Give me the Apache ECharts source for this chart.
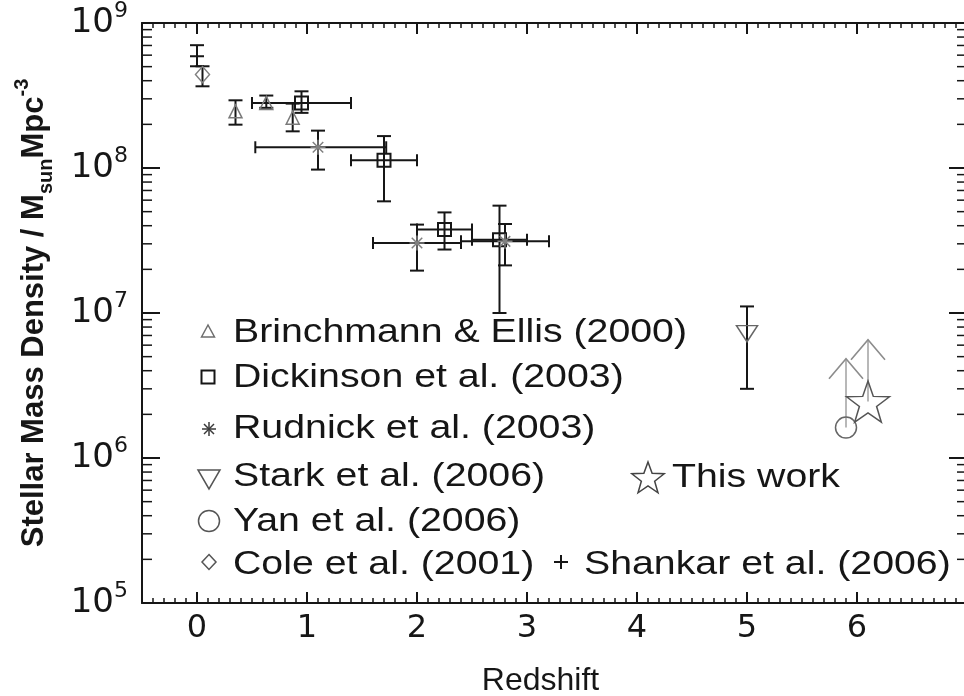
<!DOCTYPE html>
<html>
<head>
<meta charset="utf-8">
<script src="https://cdn.jsdelivr.net/npm/echarts@6/dist/echarts.min.js"></script>
<style>
  html, body { margin: 0; padding: 0; background: #fff; }
  #chart { width: 964px; height: 696px; }
</style>
</head>
<body>
<div id="chart"></div>
<script>
// Stellar mass density (M_sun Mpc^-3) against redshift, by survey.
const brinchmannZ = [0.35, 0.63, 0.87];
const brinchmannRho = [2.46e8, 2.81e8, 2.22e8];
const brinchmannLo = [1.99e8, 2.60e8, 1.79e8];
const brinchmannHi = [2.93e8, 3.16e8, 2.78e8];

const dickinsonZ = [0.95, 1.7, 2.25, 2.75];
const dickinsonZLo = [0.5, 1.4, 2.0, 2.5];
const dickinsonZHi = [1.4, 2.0, 2.5, 3.0];
const dickinsonRho = [2.81e8, 1.13e8, 3.76e7, 3.2e7];
const dickinsonLo = [2.40e8, 5.89e7, 2.74e7, 1.0e7];
const dickinsonHi = [3.38e8, 1.66e8, 4.94e7, 5.5e7];

const rudnickZ = [1.1, 2.0, 2.8];
const rudnickZLo = [0.53, 1.6, 2.4];
const rudnickZHi = [1.72, 2.4, 3.2];
const rudnickRho = [1.39e8, 3.04e7, 3.12e7];
const rudnickLo = [9.75e7, 1.96e7, 2.13e7];
const rudnickHi = [1.81e8, 4.07e7, 4.11e7];

const starkZ = [5.0];
const starkRho = [7.2e6];
const starkLo = [3.0e6];
const starkHi = [1.11e7];

const yanZ = [5.9];
const yanRho = [1.62e6];
const yanArrowTo = [4.84e6];

const thisWorkZ = [6.1];
const thisWorkRho = [2.45e6];
const thisWorkArrowTo = [6.54e6];

const coleZ = [0.05];
const coleRho = [4.41e8];
const coleLo = [3.66e8];
const coleHi = [5.03e8];

const shankarZ = [0.0];
const shankarRho = [5.9e8];
const shankarLo = [5.03e8];
const shankarHi = [7.03e8];

const xTickValues = [0, 1, 2, 3, 4, 5, 6];
const yDecades = [1e5, 1e6, 1e7, 1e8, 1e9];
const legendLabels = [
  'Brinchmann & Ellis (2000)',
  'Dickinson et al. (2003)',
  'Rudnick et al. (2003)',
  'Stark et al. (2006)',
  'Yan et al. (2006)',
  'Cole et al. (2001)',
  'This work',
  'Shankar et al. (2006)'
];

const X_MIN = -0.5, X_MAX = 7.0;
const Y_MIN = yDecades[0], Y_MAX = yDecades[yDecades.length - 1];
const INK = '#161616';
const SANS = 'Liberation Sans, Arial, sans-serif';
const WIDE = 'DejaVu Sans, Verdana, sans-serif';

// log-axis minor ticks at 2..9 within every decade
const yMinorTicks = [];
for (let d = 0; d < yDecades.length - 1; d++) {
  for (let m = 2; m <= 9; m++) yMinorTicks.push(m * yDecades[d]);
}

function pairs(xs, ys) { return xs.map((v, i) => [v, ys[i]]); }

function starPath(R, r) {
  const pts = [];
  for (let k = 0; k < 10; k++) {
    const a = (-90 + k * 36) * Math.PI / 180;
    const rad = k % 2 ? r : R;
    pts.push([R + rad * Math.cos(a), R + rad * Math.sin(a)]);
  }
  return pts;
}
const starSymbol = 'path://M' + starPath(20, 8).map(p => p[0].toFixed(2) + ',' + p[1].toFixed(2)).join('L') + 'Z';
const asteriskSymbol = 'path://M5,0L5,10M0,5L10,5M1.5,1.5L8.5,8.5M8.5,1.5L1.5,8.5';
const plusSymbol = 'path://M0,5L10,5M5,0L5,10';

function errorBars(name, xs, ys, spec) {
  return {
    type: 'custom',
    name: name + ' errors',
    data: pairs(xs, ys),
    clip: false,
    silent: true,
    z: 3,
    renderItem(params, api) {
      const i = params.dataIndex;
      const zc = api.value(0), yc = api.value(1);
      const style = { stroke: spec.color || INK, lineWidth: spec.lw || 2, fill: null };
      const kids = [];
      const seg = (a, b) => kids.push({ type: 'line', shape: { x1: a[0], y1: a[1], x2: b[0], y2: b[1] }, style });
      if (spec.lo) {
        const lo = api.coord([zc, spec.lo[i]]), hi = api.coord([zc, spec.hi[i]]);
        const c = spec.capV || 7;
        seg(lo, hi);
        seg([lo[0] - c, lo[1]], [lo[0] + c, lo[1]]);
        seg([hi[0] - c, hi[1]], [hi[0] + c, hi[1]]);
      }
      if (spec.zlo) {
        const l = api.coord([spec.zlo[i], yc]), r = api.coord([spec.zhi[i], yc]);
        const c = spec.capH || 6;
        seg(l, r);
        seg([l[0], l[1] - c], [l[0], l[1] + c]);
        seg([r[0], r[1] - c], [r[0], r[1] + c]);
      }
      return { type: 'group', children: kids };
    }
  };
}

function lowerLimitArrows(name, xs, ys, tips) {
  return {
    type: 'custom',
    name: name + ' limits',
    data: pairs(xs, ys),
    clip: false,
    silent: true,
    z: 3,
    renderItem(params, api) {
      const i = params.dataIndex;
      const a = api.coord([api.value(0), api.value(1)]);
      const b = api.coord([api.value(0), tips[i]]);
      return {
        type: 'group',
        children: [
          { type: 'line', shape: { x1: a[0], y1: a[1], x2: b[0], y2: b[1] }, style: { stroke: '#b8b8b8', lineWidth: 2 } },
          { type: 'polyline', shape: { points: [[b[0] - 17, b[1] + 20], [b[0], b[1]], [b[0] + 17, b[1] + 20]] },
            style: { stroke: '#8c8c8c', lineWidth: 1.6, fill: null } }
        ]
      };
    }
  };
}

function markers(name, xs, ys, symbol, size, color, lw, rotate) {
  return {
    type: 'scatter',
    name,
    data: pairs(xs, ys),
    symbol,
    symbolSize: size,
    symbolRotate: rotate || 0,
    silent: true,
    z: 5,
    itemStyle: { color: 'rgba(0,0,0,0)', borderColor: color, borderWidth: lw, opacity: 1 }
  };
}

const tickMarks = {
  type: 'custom',
  name: 'minor ticks',
  data: yMinorTicks.map(v => [X_MIN, v]),
  clip: false,
  silent: true,
  z: 2,
  renderItem(params, api) {
    const v = api.value(1);
    const a = api.coord([X_MIN, v]), b = api.coord([X_MAX, v]);
    const st = { stroke: INK, lineWidth: 1.5 };
    return {
      type: 'group',
      children: [
        { type: 'line', shape: { x1: a[0], y1: a[1], x2: a[0] + 10, y2: a[1] }, style: st },
        { type: 'line', shape: { x1: b[0], y1: b[1], x2: b[0] - 10, y2: b[1] }, style: st }
      ]
    };
  }
};

const axisLine = { show: true, onZero: false, lineStyle: { color: INK, width: 2 } };

function minorX(pos) {
  return {
    type: 'value', position: pos, min: X_MIN, max: X_MAX, interval: 0.1,
    axisLine, axisTick: { show: true, inside: true, length: 5, lineStyle: { color: INK, width: 1.5 } },
    axisLabel: { show: false }, splitLine: { show: false }
  };
}
function majorX(pos, withLabels) {
  return {
    type: 'value', position: pos, min: X_MIN, max: X_MAX,
    axisLine: { show: false, onZero: false },
    axisTick: { show: true, inside: true, length: 11, customValues: xTickValues, lineStyle: { color: INK, width: 2 } },
    axisLabel: { show: withLabels, customValues: xTickValues, margin: 10, fontSize: 32, fontFamily: WIDE, color: INK },
    splitLine: { show: false },
    name: withLabels ? 'Redshift' : '',
    nameLocation: 'middle',
    nameGap: 62,
    nameTextStyle: { fontSize: 32, fontFamily: SANS, color: INK, padding: [0, 28, 0, 0] }
  };
}
function logY(pos, withLabels) {
  return {
    type: 'log', logBase: 10, position: pos, min: Y_MIN, max: Y_MAX,
    axisLine,
    axisTick: { show: true, inside: true, length: 18, lineStyle: { color: INK, width: 2 } },
    axisLabel: {
      show: withLabels, margin: 14,
      formatter: v => '{b|10}{s|' + Math.round(Math.log10(v)) + '}',
      rich: {
        b: { fontSize: 34, fontFamily: WIDE, color: INK, lineHeight: 46 },
        s: { fontSize: 22, fontFamily: WIDE, color: INK, lineHeight: 22, verticalAlign: 'top' }
      }
    },
    splitLine: { show: false },
    name: withLabels ? '{t|Stellar Mass Density / M}{sub|sun}{t|Mpc}{sup|-3}' : '',
    nameLocation: 'middle',
    nameRotate: 90,
    nameGap: 86,
    nameTextStyle: {
      rich: {
        t: { fontSize: 31, fontWeight: 'bold', fontFamily: SANS, color: INK, lineHeight: 44 },
        sub: { fontSize: 20, fontWeight: 'bold', fontFamily: SANS, color: INK, lineHeight: 20, verticalAlign: 'bottom' },
        sup: { fontSize: 20, fontWeight: 'bold', fontFamily: SANS, color: INK, lineHeight: 20, verticalAlign: 'top' }
      }
    }
  };
}

// legend drawn as free graphics
function legendGlyph(kind, cx, cy) {
  const open = (stroke, lw) => ({ stroke, lineWidth: lw, fill: null });
  switch (kind) {
    case 'up':
      return { type: 'polygon', shape: { points: [[cx - 6.5, cy + 6], [cx, cy - 6], [cx + 6.5, cy + 6]] }, style: open('#6e6e6e', 1.5) };
    case 'square':
      return { type: 'rect', shape: { x: cx - 6.5, y: cy - 6.5, width: 13, height: 13 }, style: open(INK, 2) };
    case 'asterisk':
      return { type: 'group', children: [
        [[cx, cy - 7], [cx, cy + 7]], [[cx - 7, cy], [cx + 7, cy]],
        [[cx - 5, cy - 5], [cx + 5, cy + 5]], [[cx + 5, cy - 5], [cx - 5, cy + 5]]
      ].map(s => ({ type: 'line', shape: { x1: s[0][0], y1: s[0][1], x2: s[1][0], y2: s[1][1] }, style: open('#3a3a3a', 1.5) })) };
    case 'down':
      return { type: 'polygon', shape: { points: [[cx - 11, cy - 9], [cx + 11, cy - 9], [cx, cy + 10]] }, style: open('#555', 1.5) };
    case 'circle':
      return { type: 'circle', shape: { cx, cy, r: 10.5 }, style: open('#555', 1.5) };
    case 'diamond':
      return { type: 'polygon', shape: { points: [[cx, cy - 7.5], [cx + 7, cy], [cx, cy + 7.5], [cx - 7, cy]] }, style: open('#555', 1.5) };
    case 'plus':
      return { type: 'group', children: [
        { type: 'line', shape: { x1: cx - 7, y1: cy, x2: cx + 7, y2: cy }, style: open(INK, 2) },
        { type: 'line', shape: { x1: cx, y1: cy - 7, x2: cx, y2: cy + 7 }, style: open(INK, 2) }
      ] };
    case 'star':
      return { type: 'polygon', shape: { points: starPath(17, 7).map(p => [p[0] + cx - 17, p[1] + cy - 17]) }, style: open('#444', 1.5) };
  }
}
const legendLayout = [
  { kind: 'up', gx: 208, gy: 331, tx: 233, ty: 333 },
  { kind: 'square', gx: 208, gy: 377, tx: 233, ty: 378 },
  { kind: 'asterisk', gx: 209, gy: 429, tx: 233, ty: 429 },
  { kind: 'down', gx: 209, gy: 479, tx: 233, ty: 477 },
  { kind: 'circle', gx: 209, gy: 521, tx: 233, ty: 522 },
  { kind: 'diamond', gx: 209, gy: 562, tx: 233, ty: 565 },
  { kind: 'star', gx: 648, gy: 479, tx: 672, ty: 478 },
  { kind: 'plus', gx: 561, gy: 562, tx: 584, ty: 565 }
];
const legendGraphics = [];
legendLayout.forEach((e, i) => {
  legendGraphics.push(legendGlyph(e.kind, e.gx, e.gy));
  legendGraphics.push({
    type: 'text', x: e.tx, y: e.ty, scaleX: 1.19,
    style: { text: legendLabels[i], fontSize: 33, fontFamily: SANS, fill: INK, textAlign: 'left', verticalAlign: 'middle', textVerticalAlign: 'middle' }
  });
});

const chart = echarts.init(document.getElementById('chart'));
chart.setOption({
  animation: false,
  backgroundColor: '#ffffff',
  grid: { left: 142, right: -3, top: 23, bottom: 93, outerBoundsMode: 'none', containLabel: false },
  xAxis: [minorX('bottom'), majorX('bottom', true), minorX('top'), majorX('top', false)],
  yAxis: [logY('left', true), logY('right', false)],
  series: [
    tickMarks,
    errorBars(legendLabels[0], brinchmannZ, brinchmannRho, { lo: brinchmannLo, hi: brinchmannHi }),
    errorBars(legendLabels[1], dickinsonZ, dickinsonRho, { lo: dickinsonLo, hi: dickinsonHi, zlo: dickinsonZLo, zhi: dickinsonZHi }),
    errorBars(legendLabels[2], rudnickZ, rudnickRho, { lo: rudnickLo, hi: rudnickHi, zlo: rudnickZLo, zhi: rudnickZHi }),
    errorBars(legendLabels[3], starkZ, starkRho, { lo: starkLo, hi: starkHi }),
    errorBars(legendLabels[5], coleZ, coleRho, { lo: coleLo, hi: coleHi }),
    errorBars(legendLabels[7], shankarZ, shankarRho, { lo: shankarLo, hi: shankarHi }),
    lowerLimitArrows(legendLabels[4], yanZ, yanRho, yanArrowTo),
    lowerLimitArrows(legendLabels[6], thisWorkZ, thisWorkRho, thisWorkArrowTo),
    markers(legendLabels[0], brinchmannZ, brinchmannRho, 'triangle', [13, 13], '#7a7a7a', 1.5),
    markers(legendLabels[1], dickinsonZ, dickinsonRho, 'rect', 13, INK, 2),
    markers(legendLabels[2], rudnickZ, rudnickRho, asteriskSymbol, 15, '#808080', 1.5),
    markers(legendLabels[3], starkZ, starkRho, 'triangle', [21, 16], '#666', 1.5, 180),
    markers(legendLabels[4], yanZ, yanRho, 'circle', 21, '#666', 1.5),
    markers(legendLabels[5], coleZ, coleRho, 'diamond', [14, 16], '#808080', 1.5),
    markers(legendLabels[7], shankarZ, shankarRho, plusSymbol, 14, INK, 2),
    markers(legendLabels[6], thisWorkZ, thisWorkRho, starSymbol, [43, 41], '#555', 1.5)
  ],
  graphic: legendGraphics
});
</script>
</body>
</html>
